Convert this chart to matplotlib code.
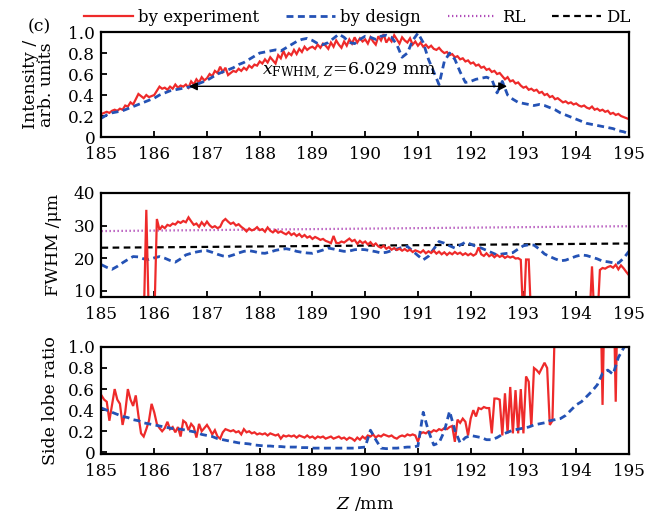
import numpy as np
import matplotlib
matplotlib.use("Agg")
import matplotlib.pyplot as plt
from matplotlib.lines import Line2D

plt.rcParams['font.family'] = ['DejaVu Serif']
plt.rcParams['mathtext.fontset'] = 'dejavuserif'

# ---------------- data ----------------
z_exp = np.round(np.linspace(185, 195, 201), 2)   # 0.05 mm sampling (experiment)
z_des = np.round(np.linspace(185, 195, 101), 2)   # 0.1 mm sampling (design)
z_ref = [185, 195]

intensity_exp = (
    [0.22, 0.23, 0.24, 0.23, 0.25, 0.26, 0.25, 0.27, 0.26, 0.30, 0.29, 0.33, 0.31, 0.36, 0.41, 0.39, 0.37, 0.40, 0.38, 0.39]
    + [0.40, 0.44, 0.48, 0.46, 0.47, 0.45, 0.48, 0.46, 0.50, 0.47, 0.49, 0.48, 0.50, 0.47, 0.53, 0.50, 0.55, 0.52, 0.57, 0.54]
    + [0.56, 0.60, 0.58, 0.63, 0.61, 0.67, 0.62, 0.66, 0.59, 0.61, 0.63, 0.62, 0.65, 0.63, 0.66, 0.64, 0.68, 0.66, 0.69, 0.68]
    + [0.72, 0.70, 0.74, 0.71, 0.76, 0.73, 0.70, 0.78, 0.75, 0.82, 0.76, 0.80, 0.78, 0.83, 0.79, 0.84, 0.81, 0.86, 0.83, 0.85]
    + [0.86, 0.84, 0.88, 0.85, 0.89, 0.87, 0.84, 0.90, 0.86, 0.92, 0.88, 0.85, 0.91, 0.87, 0.93, 0.89, 0.95, 0.90, 0.94, 0.91]
    + [0.93, 0.89, 0.95, 0.91, 0.88, 0.96, 0.92, 0.98, 0.90, 0.94, 0.91, 0.97, 0.93, 0.89, 0.95, 0.92, 0.90, 0.94, 0.88, 0.91]
    + [0.87, 0.90, 0.86, 0.88, 0.85, 0.87, 0.84, 0.83, 0.85, 0.82, 0.80, 0.81, 0.78, 0.79, 0.76, 0.77, 0.74, 0.75, 0.72, 0.73]
    + [0.70, 0.71, 0.68, 0.69, 0.66, 0.67, 0.64, 0.65, 0.62, 0.63, 0.60, 0.61, 0.58, 0.55, 0.57, 0.53, 0.54, 0.51, 0.52, 0.49]
    + [0.47, 0.48, 0.45, 0.46, 0.44, 0.45, 0.42, 0.43, 0.40, 0.41, 0.38, 0.39, 0.36, 0.37, 0.35, 0.33, 0.34, 0.32, 0.33, 0.31]
    + [0.32, 0.30, 0.29, 0.30, 0.28, 0.27, 0.29, 0.26, 0.27, 0.25, 0.26, 0.24, 0.25, 0.22, 0.23, 0.21, 0.22, 0.20, 0.19, 0.18]
    + [0.17]
)

intensity_des = (
    [0.18, 0.21, 0.23, 0.24, 0.25, 0.27, 0.29, 0.31, 0.33, 0.35]
    + [0.37, 0.40, 0.42, 0.44, 0.45, 0.46, 0.47, 0.48, 0.50, 0.52]
    + [0.54, 0.57, 0.60, 0.62, 0.64, 0.66, 0.69, 0.71, 0.74, 0.77]
    + [0.80, 0.81, 0.82, 0.83, 0.82, 0.85, 0.88, 0.91, 0.93, 0.94]
    + [0.92, 0.89, 0.88, 0.90, 0.94, 0.98, 0.95, 0.90, 0.89, 0.93]
    + [0.96, 0.95, 0.93, 0.96, 0.97, 0.95, 0.88, 0.76, 0.80, 0.92]
    + [0.99, 0.90, 0.74, 0.62, 0.50, 0.72, 0.80, 0.74, 0.62, 0.52]
    + [0.53, 0.55, 0.56, 0.57, 0.55, 0.42, 0.53, 0.40, 0.36, 0.33]
    + [0.32, 0.31, 0.30, 0.31, 0.30, 0.28, 0.26, 0.23, 0.21, 0.19]
    + [0.17, 0.15, 0.13, 0.12, 0.11, 0.10, 0.09, 0.08, 0.06, 0.05]
    + [0.03]
)

fwhm_exp = (
    [0, 0, 0, 0, 0, 0, 0, 0, 0, 0, 0, 0, 0, 0, 0, 0, 0, 34.8, 0, 0]
    + [0, 32.0, 28.7, 29.8, 29.2, 30.2, 29.9, 30.6, 30.3, 31.2, 30.8, 31.4, 31.0, 32.5, 31.3, 30.2, 30.6, 29.6, 31.0, 30.0]
    + [31.2, 30.1, 29.4, 29.8, 29.2, 29.6, 31.3, 32.0, 31.2, 30.5, 30.9, 30.0, 30.4, 29.6, 29.0, 28.2, 29.1, 28.5, 28.8, 29.5]
    + [28.6, 28.9, 28.1, 29.4, 28.4, 27.9, 28.6, 27.8, 28.2, 27.7, 27.3, 28.0, 27.1, 27.6, 26.8, 27.4, 26.5, 27.1, 26.3, 26.7]
    + [25.9, 26.5, 26.1, 25.6, 25.9, 25.3, 25.0, 24.6, 26.8, 24.7, 24.6, 25.1, 24.8, 25.4, 26.0, 25.2, 25.6, 24.4, 25.3, 24.6]
    + [25.1, 24.2, 24.9, 23.9, 24.5, 23.6, 23.2, 23.8, 22.9, 23.4, 22.6, 23.1, 22.5, 22.9, 22.3, 22.8, 22.2, 22.6, 21.9, 22.4]
    + [22.1, 21.7, 22.4, 21.5, 22.1, 21.6, 22.3, 21.4, 22.0, 21.2, 21.8, 21.0, 21.7, 21.2, 21.9, 21.3, 21.7, 21.0, 21.5, 20.9]
    + [21.4, 20.8, 21.3, 23.3, 21.2, 20.7, 21.5, 20.6, 21.1, 20.3, 21.0, 20.4, 20.8, 20.1, 20.6, 20.2, 20.5, 19.9, 20.0, 19.5]
    + [0, 19.6, 19.6, 0, 0, 0, 0, 0, 0, 0, 0, 0, 0, 0, 0, 0, 0, 0, 0, 0]
    + [0, 0, 0, 0, 0, 0, 17.5, 0, 0, 16.4, 17.0, 16.8, 17.3, 17.6, 17.1, 18.0, 16.6, 17.8, 16.9, 15.8]
    + [14.8]
)

fwhm_des = (
    [18.0, 17.2, 16.6, 17.5, 18.6, 19.6, 20.5, 20.4, 19.8, 19.6]
    + [20.1, 20.5, 20.0, 19.3, 18.8, 19.8, 21.0, 21.5, 21.9, 22.2]
    + [22.3, 21.8, 21.2, 20.7, 20.5, 21.0, 21.6, 22.1, 22.3, 22.0]
    + [21.6, 21.5, 21.9, 22.4, 22.7, 22.9, 22.6, 22.1, 21.8, 21.6]
    + [21.5, 22.0, 22.5, 23.1, 22.8, 22.4, 22.1, 22.2, 22.6, 22.7]
    + [22.6, 22.3, 22.0, 21.6, 21.8, 22.3, 22.8, 23.3, 23.6, 22.2]
    + [20.8, 19.5, 20.6, 22.8, 25.1, 24.6, 23.8, 23.1, 24.0, 24.9]
    + [24.3, 23.6, 23.1, 22.4, 21.7, 21.0, 21.3, 21.5, 21.7, 22.8]
    + [23.8, 24.1, 24.0, 22.8, 21.3, 20.5, 19.8, 19.2, 19.4, 20.0]
    + [20.6, 21.0, 20.8, 20.3, 19.8, 19.1, 18.9, 18.6, 18.5, 20.0]
    + [22.1]
)

rl_fwhm = [28.3, 29.8]
dl_fwhm = [23.2, 24.5]

sidelobe_exp = (
    [0.54, 0.50, 0.48, 0.30, 0.45, 0.60, 0.50, 0.46, 0.26, 0.38, 0.60, 0.50, 0.44, 0.54, 0.35, 0.18, 0.15, 0.22, 0.30, 0.46]
    + [0.38, 0.27, 0.23, 0.20, 0.23, 0.29, 0.22, 0.24, 0.19, 0.24, 0.15, 0.30, 0.28, 0.21, 0.27, 0.24, 0.14, 0.27, 0.20, 0.23]
    + [0.26, 0.22, 0.17, 0.21, 0.15, 0.13, 0.19, 0.22, 0.21, 0.20, 0.21, 0.19, 0.20, 0.17, 0.22, 0.19, 0.20, 0.18, 0.19, 0.17]
    + [0.18, 0.17, 0.18, 0.16, 0.18, 0.17, 0.16, 0.17, 0.13, 0.16, 0.15, 0.16, 0.15, 0.16, 0.14, 0.16, 0.15, 0.14, 0.16, 0.14]
    + [0.15, 0.13, 0.15, 0.14, 0.15, 0.13, 0.14, 0.15, 0.13, 0.14, 0.15, 0.13, 0.14, 0.12, 0.14, 0.13, 0.11, 0.14, 0.12, 0.15]
    + [0.13, 0.16, 0.15, 0.17, 0.14, 0.16, 0.15, 0.17, 0.16, 0.15, 0.16, 0.14, 0.13, 0.15, 0.16, 0.15, 0.17, 0.16, 0.17, 0.16]
    + [0.10, 0.18, 0.19, 0.18, 0.20, 0.19, 0.21, 0.20, 0.22, 0.21, 0.23, 0.22, 0.24, 0.25, 0.10, 0.31, 0.28, 0.32, 0.29, 0.16]
    + [0.32, 0.40, 0.34, 0.42, 0.41, 0.43, 0.42, 0.42, 0.18, 0.51, 0.51, 0.50, 0.16, 0.56, 0.18, 0.62, 0.18, 0.59, 0.18, 0.60]
    + [0.18, 0.72, 0.67, 0.24, 0.80, 0.78, 0.75, 0.80, 0.85, 0.80, 0.26, 0.30, 1.30, 1.00, 1.20, 1.40, 1.50, 1.45, 1.60, 1.50]
    + [1.50, 1.60, 1.55, 1.70, 1.60, 1.65, 1.70, 1.75, 1.70, 1.80, 0.45, 1.80, 1.70, 1.85, 1.80, 0.48, 1.90, 1.85, 2.00, 1.90]
    + [2.00]
)

sidelobe_des = (
    [0.42, 0.40, 0.38, 0.36, 0.34, 0.33, 0.31, 0.30, 0.28, 0.27]
    + [0.26, 0.25, 0.24, 0.23, 0.22, 0.22, 0.21, 0.20, 0.19, 0.17]
    + [0.16, 0.15, 0.13, 0.12, 0.11, 0.10, 0.09, 0.085, 0.08, 0.07]
    + [0.065, 0.06, 0.06, 0.055, 0.055, 0.05, 0.05, 0.05, 0.045, 0.045]
    + [0.04, 0.04, 0.04, 0.04, 0.04, 0.04, 0.04, 0.04, 0.04, 0.045]
    + [0.05, 0.21, 0.12, 0.04, 0.035, 0.04, 0.04, 0.045, 0.05, 0.05]
    + [0.06, 0.38, 0.20, 0.07, 0.09, 0.20, 0.39, 0.21, 0.09, 0.14]
    + [0.16, 0.15, 0.14, 0.12, 0.12, 0.14, 0.17, 0.19, 0.21, 0.22]
    + [0.23, 0.24, 0.26, 0.27, 0.28, 0.30, 0.31, 0.32, 0.35, 0.40]
    + [0.45, 0.48, 0.53, 0.58, 0.64, 0.75, 0.78, 0.74, 0.90, 0.99]
    + [1.05]
)

xticks = [185, 186, 187, 188, 189, 190, 191, 192, 193, 194, 195]
ticks_unit = [0, 0.2, 0.4, 0.6, 0.8, 1.0]
ticklabels_unit = ["0", "0.2", "0.4", "0.6", "0.8", "1.0"]
ticks_fwhm = [10, 20, 30, 40]

# ---------------- style ----------------
RED = "#ee2a2a"
BLUE = "#2452b5"
PURPLE = "#b04ab8"
FS = 12.5
TFS = 12.2
LFS = 12

fig = plt.figure(figsize=(6.56, 5.17), dpi=100)
ax1 = fig.add_axes([0.1547, 0.735, 0.804, 0.203])
ax2 = fig.add_axes([0.1547, 0.426, 0.804, 0.201])
ax3 = fig.add_axes([0.1547, 0.122, 0.804, 0.207])

exp_kw = dict(color=RED, lw=1.6, solid_joinstyle='miter')
des_kw = dict(color=BLUE, lw=2.0, dashes=(2.5, 1.6))
rl_kw = dict(color=PURPLE, lw=1.6, dashes=(0.6, 1.2))
dl_kw = dict(color='black', lw=1.6, dashes=(3.0, 2.0))

ax1.plot(z_exp, intensity_exp, **exp_kw)
ax1.plot(z_des, intensity_des, **des_kw)

ax2.plot(z_ref, rl_fwhm, **rl_kw)
ax2.plot(z_ref, dl_fwhm, **dl_kw)
ax2.plot(z_des, fwhm_des, **des_kw)
ax2.plot(z_exp, fwhm_exp, **exp_kw)

ax3.plot(z_exp, sidelobe_exp, **exp_kw)
ax3.plot(z_des, sidelobe_des, **des_kw)

for ax in (ax1, ax2, ax3):
    ax.set_xlim(185, 195)
    ax.set_xticks(xticks)
    ax.tick_params(direction='in', length=4, width=1.3, labelsize=TFS, top=False, right=False)
    ax.tick_params(axis='x', pad=6.5)
    ax.tick_params(axis='y', pad=4.5)
    for s in ax.spines.values():
        s.set_linewidth(1.6)

ax1.set_ylim(0, 1.0)
ax1.set_yticks(ticks_unit)
ax1.set_yticklabels(ticklabels_unit)
ax2.set_ylim(8.2, 40)
ax2.set_yticks(ticks_fwhm)
ax3.set_ylim(-0.015, 1.0)
ax3.set_yticks(ticks_unit)
ax3.set_yticklabels(ticklabels_unit)

ax1.set_ylabel("Intensity /\narb. units", fontsize=FS, linespacing=0.95)
ax1.yaxis.set_label_coords(-0.088, 0.5)
ax2.set_ylabel("FWHM /\u03bcm", fontsize=FS)
ax2.yaxis.set_label_coords(-0.075, 0.5)
ax3.set_ylabel("Side lobe ratio", fontsize=FS)
ax3.yaxis.set_label_coords(-0.08, 0.5)
ax3.set_xlabel(r"$Z$ /mm", fontsize=FS, labelpad=11)

# FWHM annotation
ax1.annotate('', xy=(186.66, 0.483), xytext=(192.69, 0.483),
             arrowprops=dict(arrowstyle='<|-|>', color='black', lw=1.0,
                             mutation_scale=12, shrinkA=0, shrinkB=0))
ax1.text(189.7, 0.625, r"$x_{\mathrm{FWHM},\,Z}$=6.029 mm", fontsize=FS,
         ha='center', va='center')

# legend
handles = [Line2D([], [], **exp_kw), Line2D([], [], **des_kw),
           Line2D([], [], **rl_kw), Line2D([], [], **dl_kw)]
labels = ["by experiment", "by design", "RL", "DL"]
fig.legend(handles, labels, loc='center', bbox_to_anchor=(0.545, 0.967), ncol=4,
           frameon=False, fontsize=LFS, handlelength=2.9, columnspacing=1.6,
           handletextpad=0.35, borderpad=0)

fig.text(0.042, 0.948, "(c)", fontsize=FS, ha='left', va='center')

fig.savefig("out.png", dpi=100)
